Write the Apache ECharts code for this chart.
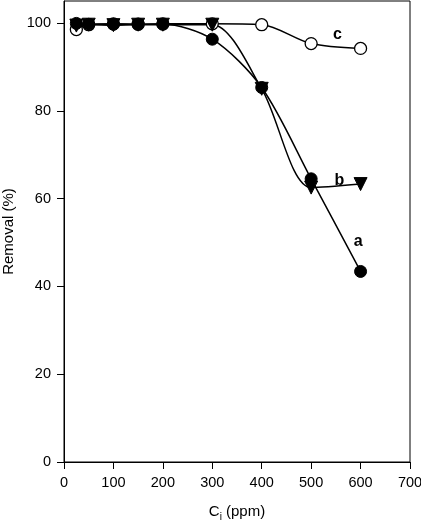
<!DOCTYPE html>
<html>
<head>
<meta charset="utf-8">
<script src="https://cdn.jsdelivr.net/npm/echarts@6/dist/echarts.min.js"></script>
<style>
  html, body { margin: 0; padding: 0; background: #fff; }
  #main { width: 421px; height: 527px; }
</style>
</head>
<body>
<div id="main"></div>
<script>
// initial concentration (ppm)
var ci = [25, 50, 100, 150, 200, 300, 400, 500, 600];
// removal (%) per curve
var seriesA = [99.9, 99.7, 99.7, 99.7, 99.7, 96.3, 85.3, 64.5, 43.4];
var seriesB = [99.4, 99.6, 99.5, 99.6, 99.6, 99.6, 85.0, 62.5, 63.3];
var seriesC = [98.5, 99.6, 99.8, 99.7, 99.8, 99.8, 99.6, 95.3, 94.2];
// curve tags [x, y, text]
var tags = [[553, 97.3, 'c'], [557, 64.0, 'b'], [595, 50.2, 'a']];
var yTicks = [0, 20, 40, 60, 80, 100];

function pairs(ys) {
    return ci.map(function (x, i) { return [x, ys[i]]; });
}

var myChart = echarts.init(document.getElementById('main'));

var option = {
    animation: false,
    textStyle: { fontFamily: 'Liberation Sans, Arial, sans-serif', color: '#000' },
    grid: {
        left: 64, right: 11, top: 1, bottom: 65,
        outerBoundsMode: 'none', containLabel: false,
        show: true, borderColor: '#000', borderWidth: 1
    },
    xAxis: {
        type: 'value', min: 0, max: 700, interval: 100,
        splitLine: { show: false },
        axisLine: { lineStyle: { color: '#000', width: 1 } },
        axisTick: { length: 7, lineStyle: { color: '#000' } },
        axisLabel: { color: '#000', fontSize: 14.5, margin: 13 },
        name: '{n|C}{s|i}{n| (ppm)}',
        nameLocation: 'middle', nameGap: 39,
        nameTextStyle: {
            rich: {
                n: { fontSize: 15, color: '#000', fontFamily: 'Liberation Sans, Arial, sans-serif' },
                s: { fontSize: 10, color: '#000', padding: [11, 0, 0, 0], fontFamily: 'Liberation Sans, Arial, sans-serif' }
            }
        }
    },
    yAxis: {
        type: 'value', min: 0, max: 105, interval: 20,
        splitLine: { show: false },
        axisLine: { lineStyle: { color: '#000', width: 1 } },
        axisTick: { length: 7, lineStyle: { color: '#000' }, customValues: yTicks },
        axisLabel: { color: '#000', fontSize: 14.5, margin: 13, customValues: yTicks },
        name: 'Removal (%)',
        nameLocation: 'middle', nameGap: 41,
        nameTextStyle: { fontSize: 15, color: '#000' }
    },
    series: [
        {
            name: 'c', type: 'line', smooth: 0.3,
            data: pairs(seriesC),
            symbol: 'circle', symbolSize: 12,
            itemStyle: { color: '#fff', borderColor: '#000', borderWidth: 1.3 },
            lineStyle: { color: '#000', width: 1.5 }
        },
        {
            name: 'b', type: 'line', smooth: 0.3,
            data: pairs(seriesB),
            symbol: 'triangle', symbolRotate: 180, symbolSize: 13,
            itemStyle: { color: '#000', borderColor: '#000' },
            lineStyle: { color: '#000', width: 1.5 }
        },
        {
            name: 'a', type: 'line', smooth: 0.3,
            data: pairs(seriesA),
            symbol: 'circle', symbolSize: 12,
            itemStyle: { color: '#000', borderColor: '#000' },
            lineStyle: { color: '#000', width: 1.5 }
        },
        {
            type: 'scatter', symbolSize: 0, silent: true,
            data: tags,
            itemStyle: { opacity: 1, color: '#000' },
            label: {
                show: true, position: 'inside',
                formatter: function (p) { return p.value[2]; },
                fontSize: 16, fontWeight: 'bold', color: '#000', opacity: 1
            }
        }
    ]
};

myChart.setOption(option);
</script>
</body>
</html>
